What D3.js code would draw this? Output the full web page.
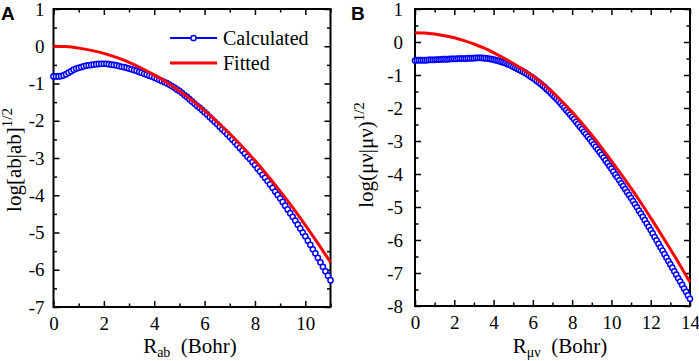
<!DOCTYPE html>
<html>
<head>
<meta charset="utf-8">
<script src="https://d3js.org/d3.v7.min.js"></script>
<style>
  body { margin: 0; background: #fff; }
  svg text { font-family: "Liberation Serif", "Times New Roman", serif; fill: #000; }
</style>
</head>
<body>
<script>
var w = 699;
var h = 361;

//Calculated values, sampled every 0.1 Bohr (panel A: 0..11, panel B: 0..14)
var calcA = [-0.81,-0.81,-0.81,-0.80,-0.78,-0.75,-0.71,-0.67,-0.63,-0.60,
  -0.58,-0.56,-0.54,-0.52,-0.51,-0.50,-0.49,-0.48,-0.475,-0.47,
  -0.47,-0.47,-0.48,-0.49,-0.50,-0.51,-0.53,-0.55,-0.56,-0.58,
  -0.60,-0.62,-0.64,-0.66,-0.69,-0.71,-0.74,-0.76,-0.79,-0.81,
  -0.84,-0.87,-0.90,-0.93,-0.96,-0.99,-1.03,-1.07,-1.11,-1.16,
  -1.20,-1.25,-1.31,-1.36,-1.42,-1.48,-1.54,-1.60,-1.65,-1.71,
  -1.77,-1.83,-1.90,-1.96,-2.03,-2.09,-2.16,-2.23,-2.29,-2.36,
  -2.43,-2.50,-2.58,-2.65,-2.73,-2.80,-2.88,-2.96,-3.03,-3.11,
  -3.19,-3.28,-3.36,-3.45,-3.53,-3.62,-3.71,-3.80,-3.90,-3.99,
  -4.08,-4.18,-4.28,-4.38,-4.48,-4.58,-4.68,-4.79,-4.89,-5.00,
  -5.10,-5.22,-5.33,-5.45,-5.56,-5.68,-5.80,-5.92,-6.04,-6.16,
  -6.28];

var calcB = [-0.56,-0.55,-0.55,-0.55,-0.55,-0.55,-0.55,-0.54,-0.54,-0.54,
  -0.54,-0.53,-0.53,-0.53,-0.52,-0.52,-0.52,-0.52,-0.51,-0.51,
  -0.51,-0.51,-0.50,-0.50,-0.50,-0.50,-0.50,-0.49,-0.49,-0.49,
  -0.49,-0.48,-0.48,-0.48,-0.48,-0.49,-0.49,-0.50,-0.51,-0.52,
  -0.53,-0.55,-0.56,-0.58,-0.60,-0.62,-0.64,-0.67,-0.69,-0.72,
  -0.75,-0.78,-0.81,-0.84,-0.87,-0.90,-0.93,-0.97,-1.01,-1.05,
  -1.09,-1.13,-1.18,-1.22,-1.27,-1.32,-1.37,-1.43,-1.48,-1.54,
  -1.60,-1.66,-1.72,-1.78,-1.85,-1.92,-1.99,-2.06,-2.13,-2.20,
  -2.27,-2.34,-2.42,-2.49,-2.57,-2.64,-2.72,-2.79,-2.87,-2.94,
  -3.02,-3.10,-3.18,-3.26,-3.34,-3.42,-3.50,-3.59,-3.67,-3.76,
  -3.84,-3.93,-4.02,-4.10,-4.19,-4.28,-4.37,-4.46,-4.55,-4.64,
  -4.73,-4.82,-4.92,-5.01,-5.11,-5.20,-5.30,-5.40,-5.50,-5.60,
  -5.70,-5.80,-5.91,-6.01,-6.12,-6.22,-6.32,-6.43,-6.53,-6.64,
  -6.74,-6.84,-6.95,-7.05,-7.16,-7.26,-7.36,-7.47,-7.57,-7.68,
  -7.78];

//Fitted curves, read every 0.5 Bohr
var fitA = [0, -0.01, -0.05, -0.11, -0.19, -0.30, -0.43, -0.59, -0.77, -0.97,
  -1.20, -1.45, -1.73, -2.03, -2.35, -2.70, -3.07, -3.47, -3.89, -4.33,
  -4.80, -5.29, -5.80];
var fitB = [0.28, 0.27, 0.24, 0.19, 0.13, 0.04, -0.06, -0.18, -0.32, -0.48,
  -0.65, -0.83, -1.03, -1.26, -1.52, -1.81, -2.12, -2.46, -2.82, -3.20,
  -3.60, -4.01, -4.43, -4.87, -5.33, -5.80, -6.28, -6.77, -7.28];

//Tick labels
var xTicksA = [0, 2, 4, 6, 8, 10];
var xTicksB = [0, 2, 4, 6, 8, 10, 12, 14];
var yTicksA = [1, 0, -1, -2, -3, -4, -5, -6, -7];
var yTicksB = [1, 0, -1, -2, -3, -4, -5, -6, -7, -8];

var legendNames = ["Calculated", "Fitted"];

var blue = "#0000ff";
var red = "#ff0000";

var svg = d3.select("body")
            .append("svg")
            .attr("width", w)
            .attr("height", h);

function panel(cfg) {
    var x = d3.scaleLinear().domain(cfg.xDomain).range(cfg.xRange);
    var y = d3.scaleLinear().domain(cfg.yDomain).range(cfg.yRange);

    var g = svg.append("g");

    //minor ticks, all four sides, pointing inside
    var xMinor = d3.range(cfg.xDomain[0] + 1, cfg.xDomain[1] + 0.01, 2);
    var yMinor = d3.range(cfg.yDomain[0] + 0.5, cfg.yDomain[1], 1);

    g.append("g")
        .attr("transform", "translate(0," + cfg.yRange[0] + ")")
        .call(d3.axisBottom(x).tickValues(xMinor).tickSize(-3.5).tickFormat(""));
    g.append("g")
        .attr("transform", "translate(0," + cfg.yRange[1] + ")")
        .call(d3.axisTop(x).tickValues(xMinor).tickSize(-3.5).tickFormat(""));
    g.append("g")
        .attr("transform", "translate(" + cfg.xRange[0] + ",0)")
        .call(d3.axisLeft(y).tickValues(yMinor).tickSize(-3.5).tickFormat(""));
    g.append("g")
        .attr("transform", "translate(" + cfg.xRange[1] + ",0)")
        .call(d3.axisRight(y).tickValues(yMinor).tickSize(-3.5).tickFormat(""));

    //major ticks
    g.append("g")
        .attr("class", "xaxis")
        .attr("transform", "translate(0," + cfg.yRange[0] + ")")
        .call(d3.axisBottom(x).tickValues(cfg.xTicks).tickSize(-6).tickPadding(10).tickFormat(d3.format("d")));
    g.append("g")
        .attr("transform", "translate(0," + cfg.yRange[1] + ")")
        .call(d3.axisTop(x).tickValues(cfg.xTicks).tickSize(-6).tickFormat(""));
    g.append("g")
        .attr("class", "yaxis")
        .attr("transform", "translate(" + cfg.xRange[0] + ",0)")
        .call(d3.axisLeft(y).tickValues(cfg.yTicks).tickSize(-6).tickPadding(cfg.yPad).tickFormat(d3.format("d")));
    g.append("g")
        .attr("transform", "translate(" + cfg.xRange[1] + ",0)")
        .call(d3.axisRight(y).tickValues(cfg.yTicks).tickSize(-6).tickFormat(""));

    g.selectAll(".domain").remove();
    g.selectAll(".tick line").attr("stroke", "#000").attr("stroke-width", 1.5);
    g.selectAll(".tick text")
        .attr("font-family", "Liberation Serif")
        .attr("font-size", 19)
        .text(function() { return d3.select(this).text().replace("−", "-"); });

    //frame
    g.append("rect")
        .attr("x", cfg.xRange[0])
        .attr("y", cfg.yRange[1])
        .attr("width", cfg.xRange[1] - cfg.xRange[0])
        .attr("height", cfg.yRange[0] - cfg.yRange[1])
        .attr("fill", "none")
        .attr("stroke", "#000")
        .attr("stroke-width", 2);

    //calculated series: thin line with open circles
    var calcPts = cfg.calc.map(function(v, i) { return [i / 10, v]; });
    var line = d3.line().x(function(d) { return x(d[0]); }).y(function(d) { return y(d[1]); });

    g.append("path")
        .attr("d", line(calcPts))
        .attr("fill", "none")
        .attr("stroke", blue)
        .attr("stroke-width", 1.2);

    g.selectAll("circle.calc")
        .data(calcPts)
        .enter().append("circle")
        .attr("class", "calc")
        .attr("cx", function(d) { return x(d[0]); })
        .attr("cy", function(d) { return y(d[1]); })
        .attr("r", 2.6)
        .attr("fill", "#fff")
        .attr("stroke", blue)
        .attr("stroke-width", 1.5);

    //fitted series
    var fitPts = cfg.fit.map(function(v, i) { return [i / 2, v]; });
    g.append("path")
        .attr("d", line.curve(d3.curveMonotoneX)(fitPts))
        .attr("fill", "none")
        .attr("stroke", red)
        .attr("stroke-width", 3);

    //x axis title with subscript
    var xt = g.append("text")
        .attr("x", cfg.xTitleX)
        .attr("y", 353)
        .attr("font-size", 21)
        .attr("text-anchor", "middle");
    xt.append("tspan").text("R");
    xt.append("tspan").attr("font-size", 14).attr("dy", 4).text(cfg.sub);
    xt.append("tspan").attr("dy", -4).text("\u00a0\u00a0(Bohr)");

    //y axis title with superscript
    var yt = g.append("text")
        .attr("transform", "translate(" + cfg.yTitleX + "," + cfg.yTitleY + ") rotate(-90)")
        .attr("font-size", 21)
        .attr("text-anchor", "middle");
    yt.append("tspan").text(cfg.yLabel);
    yt.append("tspan").attr("font-size", 15).attr("dy", -9).text("1/2");

    //panel letter
    svg.append("text")
        .attr("x", cfg.letterX)
        .attr("y", 20)
        .attr("font-weight", "bold")
        .attr("font-size", 19)
        .style("font-family", "Liberation Sans")
        .text(cfg.letter);

    return { x: x, y: y, g: g };
}

panel({
    xDomain: [0, 11], xRange: [53.5, 330.5],
    yDomain: [-7, 1], yRange: [307, 9],
    xTicks: xTicksA, yTicks: yTicksA, yPad: 9,
    calc: calcA, fit: fitA,
    sub: "ab", xTitleX: 190,
    yLabel: "log[ab|ab]", yTitleX: 21, yTitleY: 160,
    letter: "A", letterX: 1
});

panel({
    xDomain: [0, 14], xRange: [415, 690],
    yDomain: [-8, 1], yRange: [306, 9],
    xTicks: xTicksB, yTicks: yTicksB, yPad: 12,
    calc: calcB, fit: fitB,
    sub: "\u03bc\u03bd", xTitleX: 560,
    yLabel: "log(\u03bc\u03bd|\u03bc\u03bd)", yTitleX: 373, yTitleY: 155,
    letter: "B", letterX: 351
});

//legend (panel A)
var legend = svg.append("g").attr("class", "legend");
legend.selectAll("line")
    .data(legendNames)
    .enter().append("line")
    .attr("x1", 170).attr("x2", 217)
    .attr("y1", function(d, i) { return 38 + i * 25; })
    .attr("y2", function(d, i) { return 38 + i * 25; })
    .attr("stroke", function(d, i) { return i === 0 ? blue : red; })
    .attr("stroke-width", function(d, i) { return i === 0 ? 2 : 3; });
legend.append("circle")
    .attr("cx", 193.5).attr("cy", 38).attr("r", 2.6)
    .attr("fill", "#fff").attr("stroke", blue).attr("stroke-width", 1.5);
legend.selectAll("text")
    .data(legendNames)
    .enter().append("text")
    .attr("x", 223)
    .attr("y", function(d, i) { return 45 + i * 25; })
    .attr("font-size", 20)
    .text(function(d) { return d; });
</script>
</body>
</html>
